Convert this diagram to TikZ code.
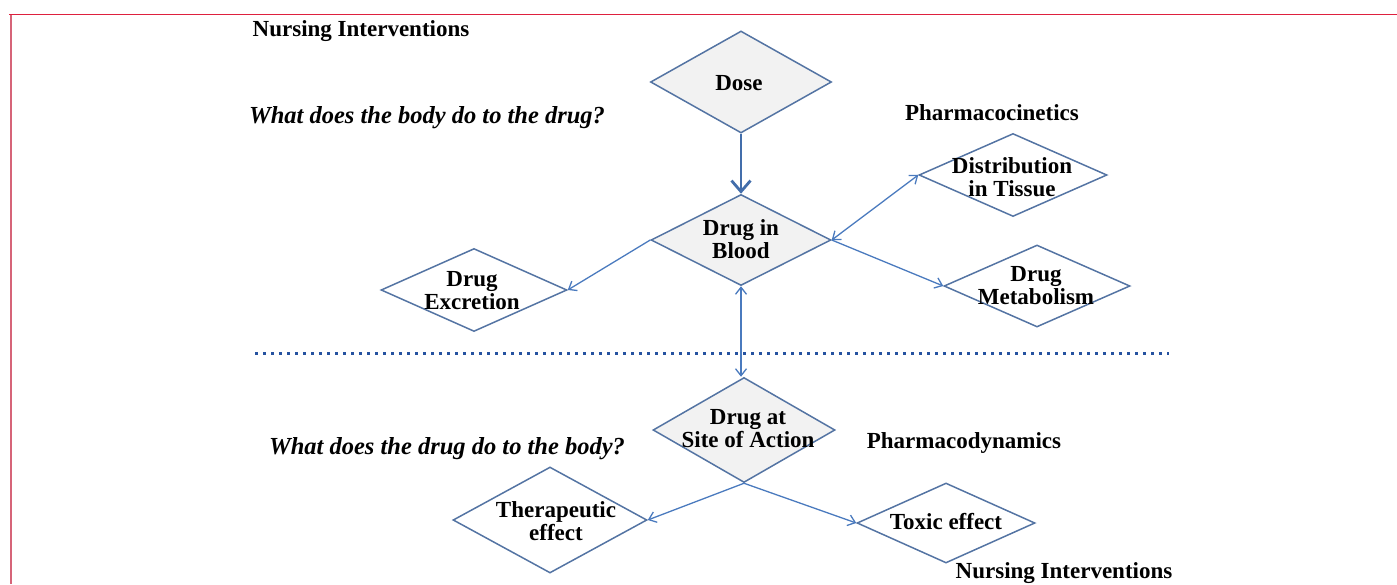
\documentclass[tikz,border=0pt]{standalone}
\usepackage{fontspec}
\setmainfont{Liberation Serif}
\usetikzlibrary{shapes.geometric,arrows.meta}
\definecolor{dblue}{RGB}{84,116,163}
\definecolor{fillg}{RGB}{242,242,242}
\definecolor{arrblue}{RGB}{74,122,190}
\definecolor{dotblue}{RGB}{38,82,160}
\definecolor{bordred}{RGB}{222,32,62}
\definecolor{bordpink}{RGB}{214,100,120}
\begin{document}
\begin{tikzpicture}[x=1pt,y=-1pt,
  dia/.style={diamond, draw=dblue, line width=1.5pt, inner sep=0pt},
  lbl/.style={font=\bfseries\fontsize{23}{23}\selectfont, align=center, inner sep=0pt, yshift=-2pt},
  qtxt/.style={font=\bfseries\itshape\fontsize{24.5}{25}\selectfont, inner sep=0pt, yshift=-2.5pt},
  arr/.style={draw=arrblue, line width=1.3pt, -{Straight Barb[length=7pt,width=11pt]}},
  arrb/.style={draw=arrblue, line width=1.3pt, {Straight Barb[length=7pt,width=11pt]}-{Straight Barb[length=7pt,width=11pt]}},
  thickarr/.style={draw=arrblue!90!black, line width=2.8pt, -{Straight Barb[length=11pt,width=19pt]}},
  dotline/.style={draw=dotblue, line width=3pt, dash pattern=on 3pt off 5pt}
]
\useasboundingbox (0,0) rectangle (1397,584);
% border
\coordinate (b1) at (9,14.5);
\coordinate (b2) at (1397,14.5);
\coordinate (b3) at (11,14.5);
\coordinate (b4) at (11,584);
\draw[bordred, line width=1.6pt] (b1) -- (b2);
\draw[bordpink, line width=2pt] (b3) -- (b4);

% diamonds
\node[dia, fill=fillg, minimum width=181pt, minimum height=102pt] (dose) at (741,82) {};
\node[dia, fill=fillg, minimum width=180pt, minimum height=91pt] (blood) at (741,240) {};
\node[dia, minimum width=188pt, minimum height=83pt] (dist) at (1013,175) {};
\node[dia, minimum width=186pt, minimum height=82pt] (metab) at (1037,286) {};
\node[dia, minimum width=186pt, minimum height=83pt] (excr) at (474,290) {};
\node[dia, fill=fillg, minimum width=182pt, minimum height=105pt] (site) at (744,430) {};
\node[dia, minimum width=194pt, minimum height=106pt] (ther) at (550,520) {};
\node[dia, minimum width=178pt, minimum height=80pt] (tox) at (946,523) {};

% texts in diamonds
\node[lbl] (dose-t) at (739,81) {Dose};
\node[lbl] (blood-t) at (741,237) {Drug in\\Blood};
\node[lbl] (dist-t) at (1012,175) {Distribution\\in Tissue};
\node[lbl] (metab-t) at (1036,284) {Drug\\Metabolism};
\node[lbl] (excr-t) at (472,289) {Drug\\Excretion};
\node[lbl] (site-t) at (748,427) {Drug at\\Site of Action};
\node[lbl] (ther-t) at (556,519) {Therapeutic\\effect};
\node[lbl] (tox-t) at (946,520) {Toxic effect};

% free labels
\node[lbl] (ni1) at (361,29) {Nursing Interventions};
\node[lbl] (ni2) at (1064,571) {Nursing Interventions};
\node[lbl] (pk) at (992,111) {Pharmacocinetics};
\node[lbl] (pd) at (964,441) {Pharmacodynamics};
\node[qtxt] (q1) at (427,115) {What does the body do to the drug?};
\node[qtxt] (q2) at (447,446) {What does the drug do to the body?};

% dotted separator
\coordinate (dl) at (255,353);
\coordinate (dr) at (1169,353);
\draw[dotline] (dl) -- (dr);

% connectors
\draw[thickarr] (dose.south) -- (blood.north);
\draw[arr] (blood.west) -- (excr.east);
\draw[arrb] (blood.east) -- (dist.west);
\draw[arr] (blood.east) -- (metab.west);
\draw[arrb] (blood.south) -- (blood.south |- site.north);
\draw[arr] (site.south) -- (ther.east);
\draw[arr] (site.south) -- (tox.west);
\end{tikzpicture}
\end{document}
